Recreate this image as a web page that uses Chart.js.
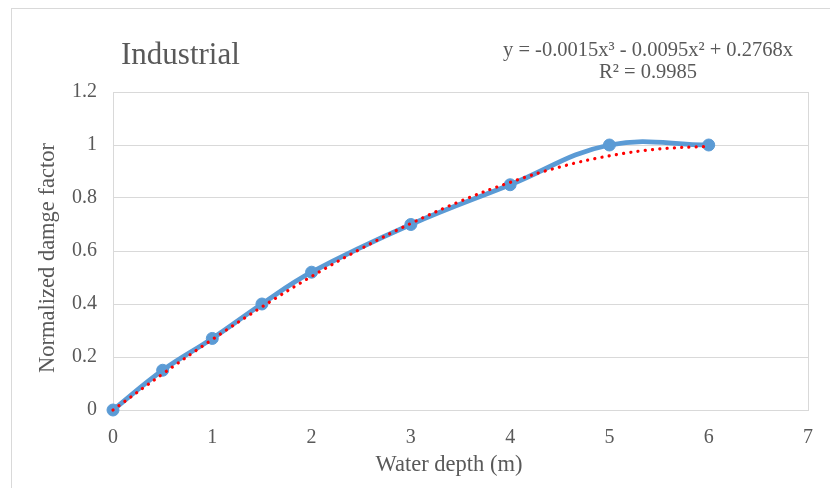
<!DOCTYPE html>
<html>
<head>
<meta charset="utf-8">
<title>Industrial</title>
<script src="https://cdn.jsdelivr.net/npm/chart.js@4/dist/chart.umd.min.js"></script>
<style>
  html, body { margin: 0; padding: 0; background: #fff; }
  #wrap { position: relative; width: 830px; height: 488px; }
</style>
</head>
<body>
<div id="wrap"><canvas id="damageChart" width="830" height="488"></canvas></div>
<script>
// water depth (m) and damage factor
var depths = [0, 0.5, 1, 1.5, 2, 3, 4, 5, 6];
var damage = [0, 0.15, 0.27, 0.4, 0.52, 0.7, 0.85, 1, 1];

var trendDepths = [0, 0.5, 1, 1.5, 2, 2.5, 3, 3.5, 4, 4.5, 5, 5.5, 6];
var trendValues = [0, 0.136, 0.266, 0.389, 0.504, 0.609, 0.704, 0.788, 0.859, 0.917, 0.959, 0.985, 0.995];

var yTicks = [0, 0.2, 0.4, 0.6, 0.8, 1, 1.2];
var xTicks = [0, 1, 2, 3, 4, 5, 6, 7];

var titleText = "Industrial";
var equationText = ["y = -0.0015x\u00b3 - 0.0095x\u00b2 + 0.2768x", "R\u00b2 = 0.9985"];
var xTitle = "Water depth (m)";
var yTitle = "Normalized damge factor";

var grey = "#595959";
var gridGrey = "#d9d9d9";
var serif = "'Liberation Serif', 'Times New Roman', serif";

// frame, title, trendline label and axis titles
var decorations = {
  id: "decorations",
  beforeDraw: function(chart) {
    var ctx = chart.ctx;
    ctx.save();
    ctx.strokeStyle = gridGrey;
    ctx.lineWidth = 1;
    ctx.strokeRect(11.5, 8.5, 840, 500);
    ctx.restore();
  },
  beforeDatasetsDraw: function(chart) {
    var a = chart.chartArea;
    var ctx = chart.ctx;
    ctx.save();
    ctx.strokeStyle = gridGrey;
    ctx.lineWidth = 1;
    ctx.strokeRect(Math.round(a.left) + 0.5, Math.round(a.top) + 0.5,
      Math.round(a.right - a.left), Math.round(a.bottom - a.top));
    ctx.restore();
  },
  afterDraw: function(chart) {
    var ctx = chart.ctx;
    ctx.save();
    ctx.fillStyle = grey;
    ctx.textBaseline = "alphabetic";

    ctx.font = "31px " + serif;
    ctx.textAlign = "left";
    ctx.fillText(titleText, 121, 64);

    ctx.font = "20.5px " + serif;
    ctx.textAlign = "center";
    ctx.fillText(equationText[0], 648, 56);
    ctx.fillText(equationText[1], 648, 78);

    ctx.font = "22.5px " + serif;
    ctx.fillText(xTitle, 449, 471);

    ctx.translate(54, 258);
    ctx.rotate(-Math.PI / 2);
    ctx.fillText(yTitle, 0, 0);
    ctx.restore();
  }
};

var ctx = document.getElementById("damageChart").getContext("2d");
var damageChart = new Chart(ctx, {
  type: "scatter",
  data: {
    datasets: [{
      label: "Trend",
      data: trendDepths.map(function(x, i) {
        return { x: x, y: trendValues[i] };
      }),
      showLine: true,
      tension: 0.4,
      borderColor: "#ff0000",
      borderWidth: 3.2,
      borderDash: [0.1, 7.2],
      borderCapStyle: "round",
      pointRadius: 0,
      clip: false,
      order: 0
    }, {
      label: "Industrial",
      data: depths.map(function(x, i) {
        return { x: x, y: damage[i] };
      }),
      showLine: true,
      tension: 0.4,
      borderColor: "#5b9bd5",
      borderWidth: 4.8,
      pointRadius: 6,
      pointBackgroundColor: "#5b9bd5",
      pointBorderColor: "#5b9bd5",
      pointBorderWidth: 1,
      clip: false,
      order: 1
    }]
  },
  plugins: [decorations],
  options: {
    responsive: false,
    animation: false,
    layout: { padding: { left: 12, top: 92, right: 22, bottom: 0 } },
    plugins: {
      legend: { display: false },
      tooltip: { enabled: false }
    },
    scales: {
      x: {
        type: "linear",
        min: 0,
        max: 7,
        afterFit: function(scale) { scale.height = 78; },
        afterBuildTicks: function(scale) {
          scale.ticks = xTicks.map(function(v) { return { value: v }; });
        },
        grid: { display: false, drawTicks: false },
        border: { display: true, color: gridGrey },
        ticks: {
          padding: 16,
          color: grey,
          font: { family: serif, size: 20 },
          maxRotation: 0
        }
      },
      y: {
        type: "linear",
        min: 0,
        max: 1.2,
        afterFit: function(scale) { scale.width = 101; },
        afterBuildTicks: function(scale) {
          scale.ticks = yTicks.map(function(v) { return { value: v }; });
        },
        grid: { color: gridGrey, drawTicks: false },
        border: { display: true, color: gridGrey },
        ticks: {
          padding: 16,
          color: grey,
          font: { family: serif, size: 20 },
          callback: function(v) { return String(Math.round(v * 10) / 10); }
        }
      }
    }
  }
});
</script>
</body>
</html>
